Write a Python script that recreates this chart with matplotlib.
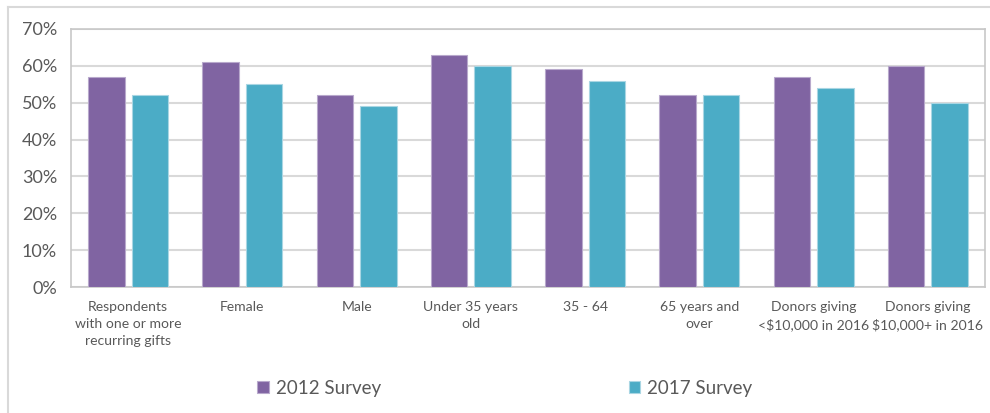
import numpy as np
import matplotlib.pyplot as plt
from matplotlib.lines import Line2D

categories = ["Respondents\nwith one or more\nrecurring gifts", "Female", "Male",
              "Under 35 years\nold", "35 - 64", "65 years and\nover",
              "Donors giving\n<$10,000 in 2016", "Donors giving\n$10,000+ in 2016"]
survey_2012 = [57, 61, 52, 63, 59, 52, 57, 60]
survey_2017 = [52, 55, 49, 60, 56, 52, 54, 50]

plt.rcParams['font.family'] = ['Lato', 'DejaVu Sans']
text_col = '#595959'

fig = plt.figure(figsize=(9.9, 4.13), dpi=100)
ax = fig.add_axes([0.0717, 0.305, 0.9233, 0.625])

x = np.arange(len(categories))
w = 0.32
ax.bar(x - 0.19, survey_2012, w, color='#8064A2', edgecolor='#B8A9CC', linewidth=0.8,
       label='2012 Survey', zorder=3)
ax.bar(x + 0.19, survey_2017, w, color='#4BACC6', edgecolor='#A9D6E3', linewidth=0.8,
       label='2017 Survey', zorder=3)

ax.set_xlim(-0.5, len(categories) - 0.5)
ax.set_ylim(0, 70)
ax.set_yticks(range(0, 71, 10))
ax.set_yticklabels([f"{v}%" for v in range(0, 71, 10)], fontsize=13, color=text_col)
ax.set_xticks(x)
ax.set_xticklabels(categories, fontsize=10.1, color=text_col, linespacing=1.5)
ax.tick_params(length=0, pad=10, axis='y')
ax.tick_params(length=0, pad=10, axis='x')
ax.grid(axis='y', color='#D9D9D9', linewidth=1.5, zorder=0)
for s in ax.spines.values():
    s.set_color('#C8C8C8')
    s.set_linewidth(1.2)

leg = fig.legend(loc='center', bbox_to_anchor=(0.51, 0.06), ncol=2, frameon=False,
                 fontsize=13.5, handlelength=0.6, handleheight=0.6, handletextpad=0.4,
                 columnspacing=13.2)
for t in leg.get_texts():
    t.set_color(text_col)

# outer chart border
fig.add_artist(Line2D([8/990, 8/990], [0, 1 - 7/413], color='#D9D9D9', linewidth=1.5))
fig.add_artist(Line2D([8/990, 1], [1 - 7/413, 1 - 7/413], color='#D9D9D9', linewidth=1.5))

fig.savefig('out.png', dpi=100)
